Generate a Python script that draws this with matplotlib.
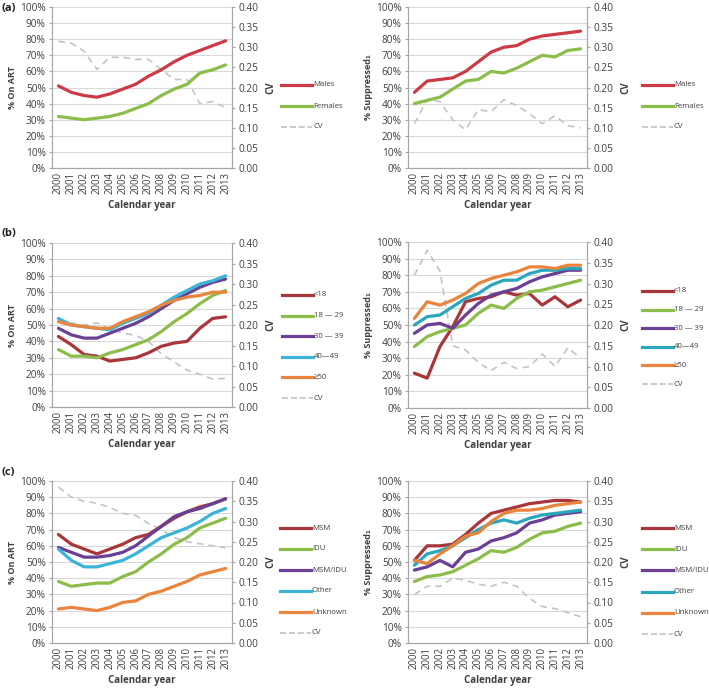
import matplotlib
matplotlib.use("Agg")
import matplotlib.pyplot as plt
import numpy as np

years = [str(y) for y in range(2000, 2014)]

# Panel (a)
a_labels = ["Males", "Females"]
a_art_males = [51, 47, 45, 44, 46, 49, 52, 57, 61, 66, 70, 73, 76, 79]
a_art_females = [32, 31, 30, 31, 32, 34, 37, 40, 45, 49, 52, 59, 61, 64]
a_art_cv = [0.315, 0.31, 0.29, 0.245, 0.275, 0.275, 0.27, 0.27, 0.245, 0.22, 0.22, 0.16, 0.165, 0.15]
a_sup_males = [47, 54, 55, 56, 60, 66, 72, 75, 76, 80, 82, 83, 84, 85]
a_sup_females = [40, 42, 44, 49, 54, 55, 60, 59, 62, 66, 70, 69, 73, 74]
a_sup_cv = [0.11, 0.17, 0.165, 0.12, 0.095, 0.145, 0.14, 0.17, 0.155, 0.135, 0.11, 0.13, 0.105, 0.10]

# Panel (b)
b_labels = ["<18", "18 \u2014 29", "30 \u2014 39", "40\u201449", "\u226550"]
b_art_lt18 = [43, 38, 32, 31, 28, 29, 30, 33, 37, 39, 40, 48, 54, 55]
b_art_18_29 = [35, 31, 31, 30, 33, 35, 38, 41, 46, 52, 57, 63, 68, 71]
b_art_30_39 = [48, 44, 42, 42, 45, 48, 51, 55, 60, 65, 69, 73, 76, 78]
b_art_40_49 = [54, 50, 49, 48, 47, 51, 54, 57, 62, 67, 71, 75, 77, 80]
b_art_ge50 = [52, 50, 49, 48, 48, 52, 55, 58, 62, 65, 67, 68, 70, 70]
b_art_cv = [0.21, 0.205, 0.20, 0.205, 0.19, 0.18, 0.175, 0.16, 0.13, 0.11, 0.09, 0.08, 0.068, 0.07]
b_sup_lt18 = [21, 18, 37, 49, 64, 66, 67, 70, 68, 69, 62, 67, 61, 65]
b_sup_18_29 = [37, 43, 46, 48, 50, 57, 62, 60, 66, 70, 71, 73, 75, 77]
b_sup_30_39 = [45, 50, 51, 48, 56, 63, 68, 70, 72, 76, 79, 81, 83, 83]
b_sup_40_49 = [50, 55, 56, 61, 66, 69, 74, 77, 77, 81, 83, 83, 84, 84]
b_sup_ge50 = [54, 64, 62, 65, 69, 75, 78, 80, 82, 85, 85, 84, 86, 86]
b_sup_cv = [0.32, 0.38, 0.33, 0.15, 0.14, 0.11, 0.09, 0.11, 0.095, 0.10, 0.13, 0.10, 0.145, 0.12]

# Panel (c)
c_labels = ["MSM", "IDU", "MSM/IDU", "Other", "Unknown"]
c_art_msm = [67, 61, 58, 55, 58, 61, 65, 67, 72, 77, 81, 84, 86, 89]
c_art_idu = [38, 35, 36, 37, 37, 41, 44, 50, 55, 61, 65, 71, 74, 77]
c_art_msmidu = [59, 56, 53, 53, 54, 56, 60, 66, 72, 78, 81, 83, 86, 89]
c_art_other = [58, 51, 47, 47, 49, 51, 55, 60, 65, 68, 71, 75, 80, 83]
c_art_unknown = [21, 22, 21, 20, 22, 25, 26, 30, 32, 35, 38, 42, 44, 46]
c_art_cv = [0.385, 0.36, 0.35, 0.345, 0.335, 0.32, 0.315, 0.295, 0.28, 0.26, 0.25, 0.245, 0.24, 0.235]
c_sup_msm = [51, 60, 60, 61, 67, 74, 80, 82, 84, 86, 87, 88, 88, 87]
c_sup_idu = [38, 41, 42, 44, 48, 52, 57, 56, 59, 64, 68, 69, 72, 74]
c_sup_msmidu = [45, 47, 51, 47, 56, 58, 63, 65, 68, 74, 76, 79, 80, 81]
c_sup_other = [48, 55, 57, 60, 65, 70, 74, 76, 74, 77, 79, 80, 81, 82]
c_sup_unknown = [51, 49, 55, 60, 66, 68, 75, 80, 82, 82, 83, 85, 86, 87]
c_sup_cv = [0.12, 0.14, 0.14, 0.16, 0.155, 0.145, 0.14, 0.15, 0.14, 0.11, 0.09, 0.085, 0.075, 0.065]

RED = "#cc3b45"
DARKRED = "#a8363a"
GREEN = "#8cbd4a"
PURPLE = "#6b3f93"
CYAN = "#3cb4d8"
TEAL = "#2aa6bd"
ORANGE = "#e8843c"
CVC = "#c4c4c4"
TXT = "#404040"

plt.rcParams["font.family"] = ["Open Sans", "DejaVu Sans"]

W, H = 709, 688
fig = plt.figure(figsize=(W / 100, H / 100), dpi=100)

def px_axes(x0, x1, ytop, ybot):
    return fig.add_axes([x0 / W, 1 - ybot / H, (x1 - x0) / W, (ybot - ytop) / H])

def panel(x0, x1, ytop, ybot, series, colors, labels, cv, ylabel, leg_x, leg_y, leg_dy):
    ax = px_axes(x0, x1, ytop, ybot)
    x = np.arange(len(years))
    ax2 = ax.twinx()
    ax2.plot(x, cv, color=CVC, lw=1.2, ls=(0, (4, 3)), zorder=1, label="CV")
    ax2.set_ylim(0, 0.40)
    ax2.set_yticks(np.arange(0, 0.401, 0.05))
    ax2.set_yticklabels([f"{v:.2f}" for v in np.arange(0, 0.401, 0.05)])
    ax2.set_ylabel("CV", fontsize=7, color=TXT, labelpad=5, fontweight="bold")
    handles = []
    for s, c, lab in zip(series, colors, labels):
        h, = ax2.plot(x, np.array(s) / 100 * 0.40, color=c, lw=2.3, solid_capstyle="round", label=lab, zorder=3)
        handles.append(h)
    hcv, = ax.plot([], [], color=CVC, lw=1.2, ls=(0, (4, 3)), label="CV")
    handles.append(hcv)
    ax.set_ylim(0, 100)
    ax.set_xlim(-0.5, len(years) - 0.5)
    ax.set_yticks(np.arange(0, 101, 10))
    ax.set_yticklabels([f"{v}%" for v in range(0, 101, 10)])
    ax.set_xticks(x)
    ax.set_xticklabels(years, rotation=90)
    ax.grid(axis="y", color="#d9d9d9", lw=0.8)
    ax.set_axisbelow(True)
    for a in (ax, ax2):
        a.spines["top"].set_visible(False)
        for sp in ("left", "right", "bottom"):
            a.spines[sp].set_color("#a6a6a6")
        a.tick_params(labelsize=7.3, colors="#a6a6a6", labelcolor=TXT, length=2.5, width=0.8, pad=2)
    ax.tick_params(axis="x", length=0, pad=3, labelsize=6.9)
    ax.set_xlabel("Calendar year", fontsize=7, fontweight="bold", color=TXT, labelpad=4)
    ax.set_ylabel(ylabel, fontsize=6.5, fontweight="bold", color=TXT, labelpad=2)
    ax2.set_xlim(-0.5, len(years) - 0.5)
    # legend
    for i, h in enumerate(handles):
        yy = leg_y + i * leg_dy
        fig.lines.append(plt.Line2D([leg_x / W, (leg_x + 31) / W], [1 - yy / H, 1 - yy / H],
                                    color=h.get_color(), lw=h.get_linewidth(), ls=h.get_linestyle(),
                                    transform=fig.transFigure))
        fig.text((leg_x + 32) / W, 1 - yy / H, h.get_label(), fontsize=5.6, color=TXT,
                 va="center", ha="left")
    return ax

# (a)
panel(52, 232, 7, 168, [a_art_males, a_art_females], [RED, GREEN], a_labels, a_art_cv,
      "% On ART", 281, 85, 21)
panel(408, 587, 7, 168, [a_sup_males, a_sup_females], [RED, GREEN], a_labels, a_sup_cv,
      "% Suppressed\u2081", 642, 85, 21)
# (b)
b_cols = [DARKRED, GREEN, PURPLE, CYAN, ORANGE]
panel(52, 232, 243, 407, [b_art_lt18, b_art_18_29, b_art_30_39, b_art_40_49, b_art_ge50], b_cols,
      b_labels, b_art_cv, "% On ART", 282, 295, 20.6)
panel(408, 587, 242, 408, [b_sup_lt18, b_sup_18_29, b_sup_30_39, b_sup_40_49, b_sup_ge50],
      [DARKRED, GREEN, PURPLE, TEAL, ORANGE], b_labels, b_sup_cv, "% Suppressed\u2081", 642, 291, 18.6)
# (c)
c_cols = [DARKRED, GREEN, PURPLE, CYAN, ORANGE]
panel(52, 232, 481, 643, [c_art_msm, c_art_idu, c_art_msmidu, c_art_other, c_art_unknown], c_cols,
      c_labels, c_art_cv, "% On ART", 280, 528, 21)
panel(408, 587, 481, 643, [c_sup_msm, c_sup_idu, c_sup_msmidu, c_sup_other, c_sup_unknown],
      [DARKRED, GREEN, PURPLE, TEAL, ORANGE], c_labels, c_sup_cv, "% Suppressed\u2081", 642, 528, 21.2)

fig.text(2 / W, 1 - 8 / H, "(a)", fontsize=8, fontweight="bold", color="#222222", va="center")
fig.text(2 / W, 1 - 233 / H, "(b)", fontsize=8, fontweight="bold", color="#222222", va="center")
fig.text(2 / W, 1 - 473 / H, "(c)", fontsize=8, fontweight="bold", color="#222222", va="center")

fig.savefig("out.png", dpi=100, facecolor="white")
